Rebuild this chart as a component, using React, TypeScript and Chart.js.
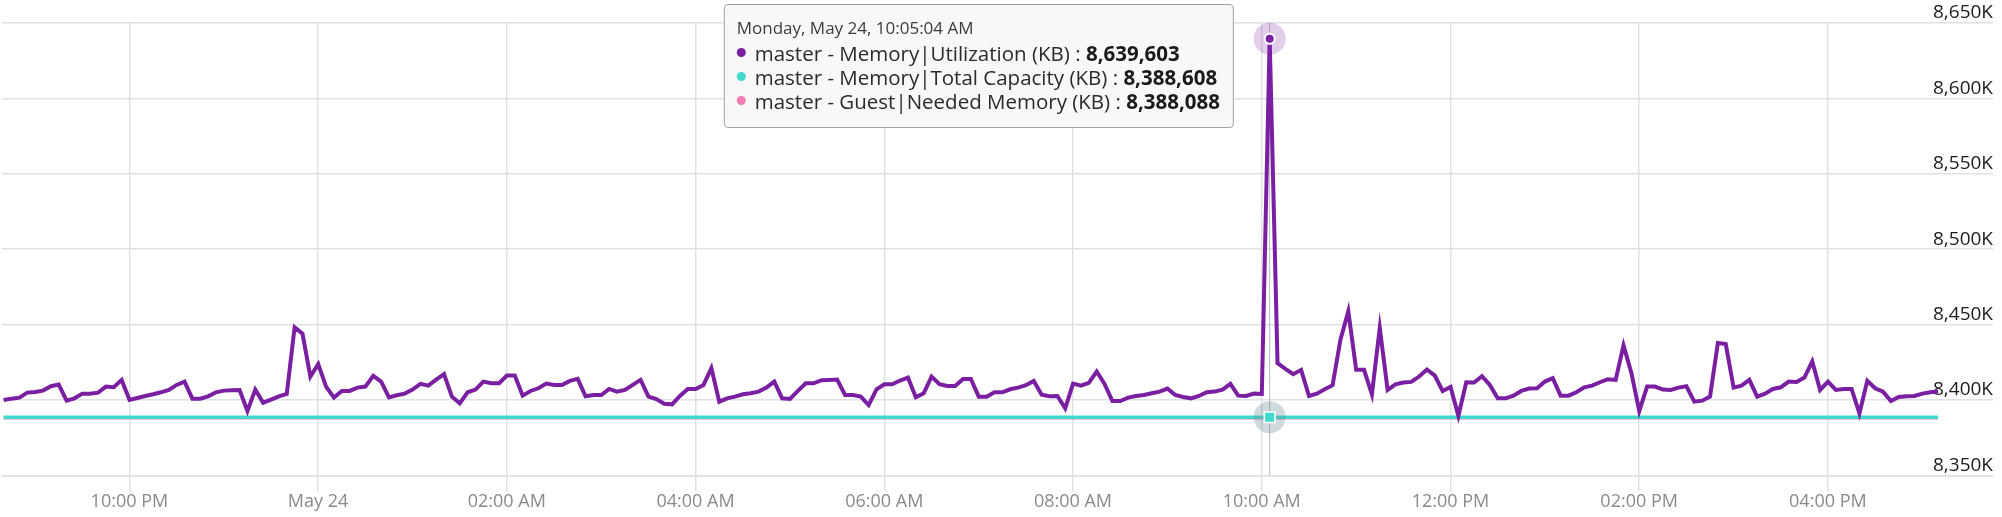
import React, { useEffect, useRef } from "react";
import { Chart, registerables } from "chart.js";

Chart.register(...registerables);

// ---- time axis (minutes since May 23, 00:00) ----
const FIRST_SAMPLE_MIN = 1240 + 4 / 60; // 8:40:04 PM, May 23
const SAMPLE_STEP_MIN = 5;
const HOVER_INDEX = 161; // 10:05:04 AM, May 24
const X_MIN = 1239;
const X_MAX = 2505;
const X_TICKS = [1320, 1440, 1560, 1680, 1800, 1920, 2040, 2160, 2280, 2400];
const DATE_LABELS = ["Sunday, May 23", "Monday, May 24"];
const MIDNIGHT_LABEL = "May 24";

// ---- value axis (KB) ----
const Y_TICKS = [8350000, 8400000, 8450000, 8500000, 8550000, 8600000, 8650000];

// ---- series ----
const SERIES_NAMES = [
  "master - Memory|Utilization (KB)",
  "master - Memory|Total Capacity (KB)",
  "master - Guest|Needed Memory (KB)",
];

const utilEvening = [
  8400000, 8400900, 8401560, 8404890, 8405330, 8406220, 8409110, 8410220, 8399560, 8401110,
  8404220, 8404220, 8404890, 8408890, 8408440, 8413330, 8400000, 8401330, 8402670, 8403780,
  8405110, 8406670, 8410000, 8412220, 8400890, 8400890, 8402440, 8405110, 8406220, 8406440,
  8406670, 8392670, 8406890, 8398220, 8400220, 8402440, 8404000, 8448220, 8444000, 8415560,
  8423780, 8408890, 8401560, 8406000, 8406000, 8408220, 8408890, 8416000, 8412220, 8401780,
  8403110, 8404220, 8406890, 8410670, 8409560, 8413560, 8417110, 8402220, 8397780, 8405110,
  8406890, 8412220, 8411110, 8411110,
];
const utilNight = [
  8416220, 8416220, 8402890, 8406000, 8407780, 8410890, 8410000, 8410000, 8412670, 8414000,
  8402440, 8403330, 8403330, 8407330, 8405560, 8406670, 8410000, 8413330, 8402220, 8400670,
  8397560, 8397110, 8402670, 8407330, 8407330, 8410000, 8421110, 8398890, 8401110, 8402220,
  8403780, 8404440, 8405560, 8408220, 8412220, 8401110, 8400670, 8406000, 8411110, 8411110,
  8413110, 8413330, 8413560, 8403330, 8403330, 8402220, 8396670, 8407110, 8410440, 8410440,
  8412890, 8414890, 8401780, 8404440, 8415560, 8410440, 8409330, 8409330, 8414000, 8414000,
  8402220, 8402220, 8405110, 8405110,
];
const utilMorning = [
  8407110, 8408220, 8409780, 8412670, 8403560, 8402440, 8402670, 8394440, 8410890, 8409560,
  8411330, 8418890, 8410670, 8399330, 8399330, 8401560, 8402670, 8403330, 8404440, 8405560,
  8407560, 8403330, 8402000, 8401110, 8402670, 8405110, 8405560, 8406890, 8410670, 8402890,
  8402670, 8404220, 8404000, 8639603, 8424440, 8420670, 8417110, 8420000, 8402670, 8404220,
  8407110, 8409780, 8440000, 8458890, 8420000, 8420000, 8403780, 8447780, 8406670, 8410440,
  8411560, 8412000, 8415560, 8420220, 8416220, 8406000, 8408670, 8389560, 8411780, 8411560,
  8415780, 8410000, 8401110,
];
const utilAfternoon = [
  8401110, 8402890, 8406000, 8407560, 8407780, 8412220, 8414440, 8402890, 8402890, 8405110,
  8408440, 8409560, 8411780, 8413780, 8413330, 8436220, 8418000, 8392670, 8408890, 8408890,
  8406890, 8406670, 8408220, 8409110, 8398890, 8399560, 8402220, 8437780, 8437110, 8408220,
  8409560, 8413330, 8402220, 8404220, 8407330, 8408440, 8412220, 8412000, 8414890, 8425560,
  8406670, 8412220, 8406670, 8407330, 8407330, 8391110, 8412670, 8407780, 8405560, 8399330,
  8402000, 8402440, 8402670, 8404220, 8405110, 8405560,
];
const UTILIZATION_KB = [...utilEvening, ...utilNight, ...utilMorning, ...utilAfternoon];
const TOTAL_CAPACITY_KB = 8388608;
const NEEDED_MEMORY_KB = 8388088;

const PURPLE = "#7a1fa2";
const TEAL = "#3fdacb";
const PINK = "#f27bb0";
const GRID = "#dfe2e5";
const FONT = "'Open Sans', sans-serif";

function pad2(n: number) {
  return n < 10 ? "0" + n : String(n);
}
function hourLabel(mins: number) {
  if (mins % 1440 === 0) return MIDNIGHT_LABEL;
  const h = Math.floor(mins / 60) % 24;
  const h12 = h % 12 === 0 ? 12 : h % 12;
  return pad2(h12) + ":" + pad2(Math.floor(mins % 60)) + (h < 12 ? " AM" : " PM");
}
function fullLabel(mins: number) {
  const total = Math.round(mins * 60);
  const day = Math.floor(total / 86400);
  const sec = total % 86400;
  const h = Math.floor(sec / 3600);
  const m = Math.floor((sec % 3600) / 60);
  const s = sec % 60;
  const h12 = h % 12 === 0 ? 12 : h % 12;
  return DATE_LABELS[day] + ", " + h12 + ":" + pad2(m) + ":" + pad2(s) + (h < 12 ? " AM" : " PM");
}

export default function App() {
  const canvasRef = useRef<HTMLCanvasElement | null>(null);
  const tipRef = useRef<HTMLDivElement | null>(null);

  useEffect(() => {
    document.body.style.margin = "0";
    const canvas = canvasRef.current;
    if (!canvas) return;

    const times = UTILIZATION_KB.map((_, i) => FIRST_SAMPLE_MIN + i * SAMPLE_STEP_MIN);
    const tFirst = times[0];
    const tHover = times[HOVER_INDEX];
    const tLast = times[times.length - 1];

    const utilData = UTILIZATION_KB.map((v, i) => ({ x: times[i], y: v }));
    const capData = [
      { x: tFirst, y: TOTAL_CAPACITY_KB },
      { x: tHover, y: TOTAL_CAPACITY_KB },
      { x: tLast, y: TOTAL_CAPACITY_KB },
    ];
    const needData = [
      { x: tFirst, y: NEEDED_MEMORY_KB },
      { x: tHover, y: NEEDED_MEMORY_KB },
      { x: tLast, y: NEEDED_MEMORY_KB },
    ];

    const hoverPlugin = {
      id: "hoverDecor",
      beforeDatasetsDraw(chart: any) {
        const act = chart.getActiveElements();
        if (!act.length) return;
        const { ctx, chartArea } = chart;
        const x = act[0].element.x;
        ctx.save();
        ctx.strokeStyle = "#b5b9bd";
        ctx.lineWidth = 1;
        ctx.beginPath();
        ctx.moveTo(x, chartArea.top);
        ctx.lineTo(x, chartArea.bottom);
        ctx.stroke();
        ctx.restore();
      },
      afterDatasetsDraw(chart: any) {
        const act = chart.getActiveElements();
        const { ctx, chartArea } = chart;
        for (let i = act.length - 1; i >= 0; i--) {
          const { datasetIndex, element } = act[i];
          ctx.save();
          ctx.fillStyle = datasetIndex === 0 ? "rgba(122,31,162,0.22)" : "rgba(110,140,150,0.32)";
          ctx.beginPath();
          ctx.arc(element.x, element.y, 16, 0, Math.PI * 2);
          ctx.fill();
          ctx.restore();
          element.draw(ctx, chartArea);
        }
      },
    };

    const external = (context: any) => {
      const { tooltip } = context;
      const el = tipRef.current;
      if (!el) return;
      const pts = tooltip.dataPoints || [];
      if (!pts.length) {
        el.style.display = "none";
        return;
      }
      const title = fullLabel(pts[0].parsed.x);
      let html =
        '<div style="font-size:17px;line-height:20px;color:#3c3c3c;margin-bottom:3px;white-space:nowrap">' +
        title +
        "</div>";
      pts.forEach((p: any) => {
        const color = p.dataset.borderColor;
        html +=
          '<div style="display:flex;align-items:center;height:24px;white-space:nowrap">' +
          '<span style="display:inline-block;width:9px;height:9px;border-radius:50%;background:' +
          color +
          ';margin-right:9px"></span>' +
          '<span style="font-size:20.5px;color:#2b2b2b">' +
          p.dataset.label +
          ' : <b style="color:#1a1a1a">' +
          Math.round(p.parsed.y).toLocaleString("en-US") +
          "</b></span></div>";
      });
      el.innerHTML = html;
      const anchor = pts[0].element;
      el.style.display = "block";
      el.style.left = anchor.x - 35 + "px";
      el.style.top = anchor.y - 35 + "px";
    };

    const chart = new Chart(canvas, {
      type: "line",
      data: {
        datasets: [
          {
            label: SERIES_NAMES[0],
            data: utilData,
            borderColor: PURPLE,
            backgroundColor: PURPLE,
            borderWidth: 4,
            pointRadius: 0,
            pointHoverRadius: 5,
            pointHoverBackgroundColor: PURPLE,
            pointHoverBorderColor: "#ffffff",
            pointHoverBorderWidth: 2,
            pointStyle: "circle",
            tension: 0,
          },
          {
            label: SERIES_NAMES[1],
            data: capData,
            borderColor: TEAL,
            backgroundColor: TEAL,
            borderWidth: 3.5,
            pointRadius: 0,
            pointHoverRadius: 7.5,
            pointHoverBackgroundColor: TEAL,
            pointHoverBorderColor: "#ffffff",
            pointHoverBorderWidth: 1.5,
            pointStyle: "rect",
            tension: 0,
          },
          {
            label: SERIES_NAMES[2],
            data: needData,
            borderColor: PINK,
            backgroundColor: PINK,
            borderWidth: 3,
            pointRadius: 0,
            pointHoverRadius: 0,
            tension: 0,
          },
        ],
      },
      options: {
        animation: false,
        responsive: false,
        devicePixelRatio: 1,
        events: [],
        layout: { padding: { top: 23, right: 9, bottom: 4, left: 0 } },
        plugins: {
          legend: { display: false },
          title: { display: false },
          tooltip: { enabled: false, external },
        },
        scales: {
          x: {
            type: "linear",
            min: X_MIN,
            max: X_MAX,
            afterBuildTicks: (scale: any) => {
              scale.ticks = X_TICKS.map((v) => ({ value: v }));
            },
            ticks: {
              autoSkip: false,
              maxRotation: 0,
              padding: 0,
              color: "#8a8a8a",
              font: { family: FONT, size: 18 },
              callback: (v: any) => hourLabel(Number(v)),
            },
            grid: { color: GRID, lineWidth: 1.5, tickLength: 16, drawTicks: true },
            border: { display: true, color: GRID, width: 1.5 },
          },
          y: {
            position: "right",
            min: Y_TICKS[0],
            max: Y_TICKS[Y_TICKS.length - 1],
            afterBuildTicks: (scale: any) => {
              scale.ticks = Y_TICKS.map((v) => ({ value: v }));
            },
            ticks: {
              mirror: true,
              padding: 0,
              labelOffset: -10,
              color: "#1c1c1c",
              font: { family: FONT, size: 19 },
              callback: (v: any) => (Number(v) / 1000).toLocaleString("en-US") + "K",
            },
            grid: { color: GRID, lineWidth: 1.5, drawTicks: false },
            border: { display: false },
          },
        },
      } as any,
      plugins: [hoverPlugin],
    });

    const active = [
      { datasetIndex: 0, index: HOVER_INDEX },
      { datasetIndex: 1, index: 1 },
    ];
    chart.setActiveElements(active);
    chart.tooltip!.setActiveElements([...active, { datasetIndex: 2, index: 1 }], { x: 0, y: 0 });
    chart.update();

    return () => {
      chart.destroy();
    };
  }, []);

  return (
    <div style={{ position: "relative", width: 2002, height: 517, fontFamily: FONT }}>
      <canvas ref={canvasRef} width={2002} height={517} style={{ display: "block" }} />
      <div
        ref={tipRef}
        style={{
          position: "absolute",
          display: "none",
          transform: "translateX(-100%)",
          background: "rgba(248,248,248,0.96)",
          border: "1px solid #a3a3a3",
          borderRadius: 4,
          padding: "13px 13px 14px 12px",
          boxSizing: "border-box",
          pointerEvents: "none",
        }}
      />
    </div>
  );
}
